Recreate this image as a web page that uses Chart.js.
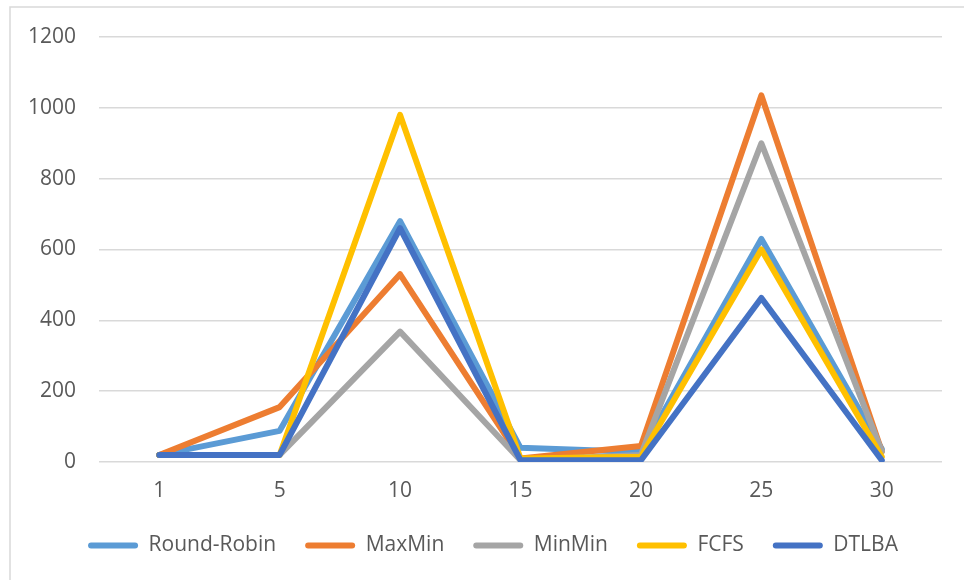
<!DOCTYPE html>
<html>
<head>
<meta charset="utf-8">
<script src="https://cdn.jsdelivr.net/npm/chart.js@4/dist/chart.umd.min.js"></script>
<style>
  html, body { margin: 0; padding: 0; background: #fff; }
  #wrap { width: 964px; height: 580px; position: relative; }
</style>
</head>
<body>
<div id="wrap"><canvas id="c" width="964" height="580"></canvas></div>
<script>
// Task counts on the horizontal axis
const categories = ['1', '5', '10', '15', '20', '25', '30'];

// Series values per scheduling algorithm
const roundRobin = [20, 88, 680, 40, 28, 630, 37];
const maxMin     = [20, 155, 530, 10, 45, 1035, 30];
const minMin     = [20, 20, 368, 5, 20, 900, 30];
const fcfs       = [20, 20, 980, 10, 15, 600, 15];
const dtlba      = [20, 20, 660, 5, 5, 463, 5];

const seriesNames = ['Round-Robin', 'MaxMin', 'MinMin', 'FCFS', 'DTLBA'];
const seriesData = [roundRobin, maxMin, minMin, fcfs, dtlba];
const seriesColors = ['#5B9BD5', '#ED7D31', '#A5A5A5', '#FFC000', '#4472C4'];

const FONT = "'Open Sans', 'Liberation Sans', sans-serif";
const FONT_SIZE = 21;

// White page with a light frame around the chart; legend nudged right
const framePlugin = {
  id: 'frame',
  afterLayout(chart) {
    const lg = chart.legend;
    if (lg) { lg.left += 22; lg.right += 22; }
  },
  beforeDraw(chart) {
    const ctx = chart.ctx;
    ctx.save();
    ctx.fillStyle = '#ffffff';
    ctx.fillRect(0, 0, chart.width, chart.height);
    ctx.strokeStyle = '#D9D9D9';
    ctx.lineWidth = 1.5;
    ctx.strokeRect(10, 7, chart.width + 20, chart.height + 20);
    ctx.restore();
  }
};

const datasets = seriesNames.map((name, i) => ({
  label: name,
  data: seriesData[i],
  borderColor: seriesColors[i],
  backgroundColor: seriesColors[i],
  borderWidth: 6,
  pointRadius: 0,
  pointHoverRadius: 0,
  tension: 0,
  borderJoinStyle: 'round',
  borderCapStyle: 'round',
  // later series are painted on top
  order: seriesNames.length - i
}));

new Chart(document.getElementById('c'), {
  type: 'line',
  data: { labels: categories, datasets },
  plugins: [framePlugin],
  options: {
    responsive: false,
    animation: false,
    layout: { padding: { left: 0, right: 22, top: 37, bottom: 14 } },
    plugins: {
      tooltip: { enabled: false },
      legend: {
        position: 'bottom',
        labels: {
          sort: (a, b) => a.datasetIndex - b.datasetIndex,
          generateLabels(chart) {
            return Chart.defaults.plugins.legend.labels.generateLabels(chart)
              .map(item => Object.assign(item, { lineWidth: 0 }));
          },
          boxWidth: 50,
          boxHeight: 6,
          useBorderRadius: true,
          borderRadius: 3,
          padding: 29,
          color: '#595959',
          font: { family: FONT, size: FONT_SIZE }
        }
      }
    },
    scales: {
      x: {
        offset: true,
        grid: { display: false, drawTicks: false },
        border: { display: false },
        ticks: { color: '#595959', padding: 16, font: { family: FONT, size: FONT_SIZE } },
        afterFit(scale) { scale.height = 44; }
      },
      y: {
        min: 0,
        max: 1200,
        ticks: {
          stepSize: 200,
          color: '#595959',
          padding: 23,
          font: { family: FONT, size: FONT_SIZE },
          callback: (v) => String(v)
        },
        grid: { color: '#D9D9D9', lineWidth: 1.5, drawTicks: false },
        border: { display: false },
        afterFit(scale) { scale.width = 99; }
      }
    }
  }
});
</script>
</body>
</html>
